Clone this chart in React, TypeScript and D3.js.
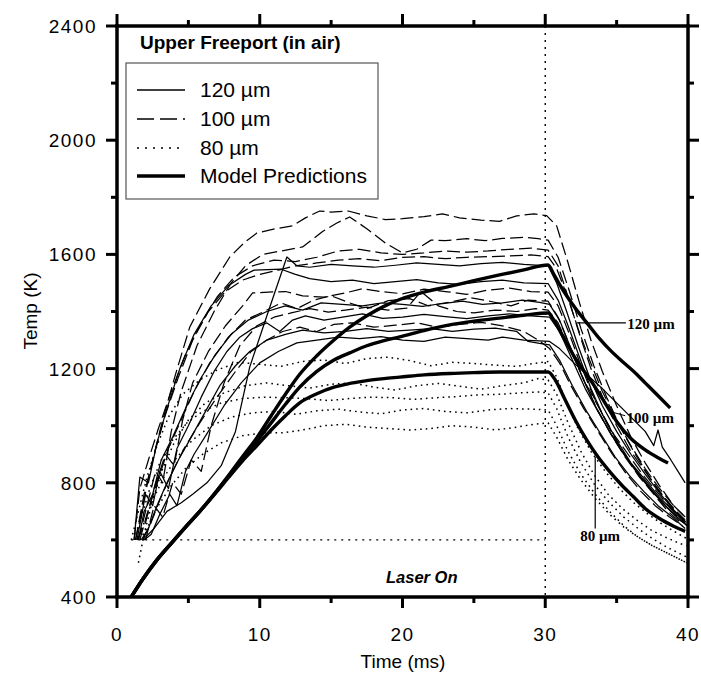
import React from "react";
import * as d3 from "d3";

type P = [number, number];

// ---------- axis ticks ----------
const xMajorTicks = [0, 10, 20, 30, 40];
const xMinorTicks = [5, 15, 25, 35];
const yMajorTicks = [400, 800, 1200, 1600, 2000, 2400];
const yMinorTicks = [600, 1000, 1400, 1800, 2200];

// ---------- legend ----------
const legendLabels = ["120 \u00b5m", "100 \u00b5m", "80 \u00b5m", "Model Predictions"];

// ---------- experimental data, 100 um (dashed) ----------
const d100a: P[] = [[1.3,600],[1.8,720],[2.4,860],[3.2,1020],[4.1,1180],[5.1,1346],[6.5,1480],[7.9,1591],[9.0,1645],[9.8,1675],[11.1,1690],[12.3,1700],[13.2,1728],[14.2,1752],[15.0,1748],[16.2,1752],[17.5,1735],[18.8,1722],[20.0,1725],[21.5,1732],[22.8,1742],[24.0,1728],[25.5,1720],[26.8,1716],[28.0,1735],[29.2,1742],[30.1,1736],[30.8,1700],[31.6,1570],[32.4,1430],[33.2,1300],[34.0,1190],[35.0,1070],[36.0,960],[37.0,870],[38.0,790],[39.0,720],[39.8,680]];
const d100b: P[] = [[1.5,600],[2.0,700],[2.7,840],[3.2,800],[3.8,980],[4.5,1120],[5.6,1280],[6.8,1400],[8.0,1500],[9.0,1560],[10.2,1600],[11.5,1612],[13.0,1626],[14.4,1680],[15.4,1710],[16.3,1731],[17.5,1690],[18.8,1640],[20.0,1605],[21.0,1618],[22.0,1650],[23.0,1648],[24.5,1655],[25.8,1648],[27.0,1656],[28.5,1660],[29.5,1655],[30.2,1650],[30.9,1590],[31.7,1470],[32.5,1340],[33.4,1210],[34.3,1100],[35.3,990],[36.3,900],[37.3,820],[38.3,750],[39.3,690],[39.9,660]];
const d100c: P[] = [[1.2,600],[1.6,780],[2.2,880],[2.9,990],[3.8,1120],[4.8,1250],[5.9,1360],[7.0,1450],[8.2,1520],[9.5,1560],[11.0,1580],[12.5,1575],[14.0,1590],[15.5,1612],[17.0,1618],[18.5,1605],[20.0,1600],[21.5,1605],[23.0,1612],[24.5,1608],[26.0,1612],[27.5,1618],[29.0,1622],[30.2,1615],[30.9,1560],[31.6,1450],[32.4,1320],[33.2,1200],[34.1,1090],[35.0,1000],[36.0,910],[37.0,840],[38.0,770],[39.0,710],[39.8,670]];
const d100d: P[] = [[1.4,600],[2.0,660],[2.6,780],[3.4,900],[4.0,860],[4.6,1020],[5.3,1150],[6.4,1260],[7.6,1350],[8.8,1420],[9.5,1465],[10.6,1468],[11.8,1470],[13.0,1455],[14.5,1450],[16.0,1465],[17.2,1480],[18.5,1470],[20.0,1462],[21.5,1478],[23.0,1470],[24.5,1460],[26.0,1475],[27.5,1482],[29.0,1470],[30.2,1468],[30.9,1420],[31.7,1320],[32.5,1210],[33.4,1100],[34.4,1000],[35.4,910],[36.4,840],[37.4,775],[38.4,720],[39.3,680],[39.9,650]];
const d100e: P[] = [[1.6,600],[2.1,690],[2.8,800],[3.6,920],[4.4,1010],[5.4,1120],[6.5,1220],[7.8,1310],[9.0,1370],[10.3,1400],[11.5,1430],[12.6,1410],[13.8,1440],[15.0,1455],[16.3,1430],[17.5,1410],[19.0,1438],[20.5,1445],[21.8,1420],[23.0,1430],[24.8,1448],[26.2,1435],[27.6,1420],[28.8,1440],[30.2,1436],[30.9,1380],[31.8,1270],[32.7,1160],[33.6,1060],[34.6,970],[35.6,890],[36.6,820],[37.6,760],[38.6,700],[39.5,660]];
const d100f: P[] = [[1.8,600],[2.3,650],[3.0,740],[3.8,830],[4.7,920],[5.8,1010],[7.0,1100],[8.3,1190],[9.4,1260],[10.5,1300],[11.6,1330],[12.8,1345],[14.0,1330],[15.2,1355],[16.5,1360],[18.0,1345],[19.5,1352],[21.0,1360],[22.5,1345],[24.0,1355],[25.5,1362],[27.0,1350],[28.5,1330],[29.5,1300],[30.3,1270],[31.0,1220],[31.8,1140],[32.7,1060],[33.7,980],[34.7,900],[35.7,830],[36.7,770],[37.7,720],[38.7,680],[39.6,650]];
const d100g: P[] = [[2.0,600],[2.6,720],[3.2,680],[3.9,800],[4.5,760],[5.2,880],[5.9,840],[6.6,1000],[7.5,1150],[8.6,1280],[9.8,1350],[11.0,1380],[12.2,1395],[13.5,1410],[14.8,1398],[16.0,1405],[17.5,1415],[19.0,1405],[20.3,1412],[21.3,1470],[22.5,1420],[23.8,1400],[25.0,1395],[26.5,1405],[28.0,1400],[29.3,1410],[30.2,1405],[30.9,1360],[31.8,1260],[32.8,1150],[33.8,1060],[34.8,970],[35.8,900],[36.8,830],[37.8,770],[38.8,710],[39.7,670]];
const d100h: P[] = [[1.3,600],[1.9,760],[2.6,900],[3.4,1040],[4.3,1170],[5.3,1300],[6.4,1400],[7.6,1470],[8.8,1510],[10.0,1530],[11.3,1545],[12.5,1560],[14.0,1570],[15.5,1580],[17.0,1585],[18.5,1578],[20.0,1590],[21.5,1592],[23.0,1585],[24.5,1590],[26.0,1592],[27.5,1595],[29.0,1598],[30.2,1592],[30.8,1550],[31.5,1460],[32.3,1340],[33.1,1230],[34.0,1120],[35.0,1020],[36.0,930],[37.0,850],[38.0,780],[39.0,720],[39.8,680]];

// ---------- experimental data, 120 um (solid) ----------
const s120a: P[] = [[1.2,600],[1.6,820],[2.2,800],[2.8,940],[3.5,1060],[4.4,1200],[5.4,1320],[6.6,1420],[7.8,1490],[9.0,1530],[9.6,1545],[11.5,1548],[12.5,1530],[13.5,1515],[15.0,1505],[16.5,1510],[18.0,1498],[19.5,1505],[21.0,1512],[22.5,1500],[24.0,1495],[25.5,1505],[27.0,1510],[28.5,1500],[30.2,1498],[30.9,1440],[31.6,1350],[32.4,1240],[33.2,1130],[34.1,1030],[35.0,950],[36.0,870],[37.0,810],[38.0,750],[39.0,700],[39.8,660]];
const s120b: P[] = [[1.5,600],[1.9,700],[2.5,760],[3.1,880],[3.9,960],[4.8,1060],[5.8,1160],[6.9,1250],[8.0,1320],[9.2,1370],[10.5,1400],[11.8,1420],[13.0,1405],[14.3,1430],[15.8,1425],[17.2,1420],[18.6,1430],[20.0,1425],[21.4,1418],[22.8,1428],[24.2,1436],[25.6,1425],[27.0,1430],[28.4,1440],[29.6,1432],[30.3,1425],[31.0,1370],[31.8,1270],[32.6,1170],[33.5,1070],[34.5,980],[35.5,900],[36.5,830],[37.5,770],[38.5,715],[39.4,670],[40.0,650]];
const s120c: P[] = [[1.4,600],[2.0,760],[2.5,720],[3.0,840],[3.6,780],[4.2,920],[5.0,1000],[5.9,1100],[6.8,1190],[7.7,1260],[8.6,1310],[9.5,1340],[10.5,1360],[11.4,1330],[12.3,1370],[13.2,1385],[14.5,1370],[15.8,1380],[17.2,1392],[18.6,1376],[20.0,1380],[21.5,1390],[23.0,1382],[24.5,1375],[26.0,1385],[27.5,1392],[29.0,1385],[30.3,1380],[31.0,1330],[31.9,1230],[32.8,1130],[33.8,1040],[34.8,955],[35.8,880],[36.8,815],[37.8,755],[38.8,700],[39.7,660]];
const s120d: P[] = [[1.7,600],[2.2,640],[2.8,720],[3.5,800],[4.3,880],[5.2,960],[6.2,1050],[7.2,1140],[8.3,1210],[9.3,1260],[10.5,1300],[11.8,1320],[13.0,1335],[14.5,1325],[16.0,1330],[17.5,1340],[19.0,1330],[20.5,1335],[22.0,1340],[23.5,1330],[25.0,1338],[26.5,1342],[28.0,1330],[28.8,1295],[29.6,1288],[30.3,1283],[31.0,1230],[31.9,1140],[32.9,1050],[33.9,970],[34.9,890],[35.9,825],[36.9,770],[37.9,720],[38.9,680],[39.8,640]];
const s120e: P[] = [[1.8,600],[2.6,640],[3.5,700],[4.5,730],[5.3,760],[6.3,800],[7.3,860],[8.3,980],[9.3,1206],[10.6,1400],[11.9,1591],[12.6,1560],[13.5,1555],[15.0,1565],[16.5,1560],[18.0,1555],[19.5,1562],[21.0,1570],[22.5,1565],[24.0,1560],[25.5,1568],[27.0,1572],[28.5,1565],[30.2,1560],[30.8,1500],[31.5,1400],[32.3,1280],[33.1,1170],[34.0,1070],[35.0,980],[36.0,900],[37.0,830],[38.0,765],[39.0,705],[39.8,665]];
const s120f: P[] = [[1.9,600],[2.4,620],[3.0,690],[3.7,760],[4.2,720],[4.8,840],[5.4,900],[6.4,980],[7.5,1070],[8.7,1150],[10.0,1220],[11.3,1260],[12.6,1290],[14.0,1300],[15.5,1310],[17.0,1305],[18.5,1312],[20.0,1300],[21.5,1295],[23.0,1310],[24.5,1305],[26.0,1300],[27.0,1310],[28.5,1300],[30.3,1295],[31.0,1270],[32.0,1220],[33.0,1175],[34.0,1130],[35.0,1080],[36.0,1030],[37.0,980],[37.6,930],[37.9,985],[38.2,925],[38.8,880],[39.3,840],[39.8,800]];

// ---------- experimental data, 80 um (dotted) ----------
const p80a: P[] = [[1.0,600],[1.5,700],[2.1,820],[2.8,930],[3.6,1030],[4.6,1110],[5.8,1160],[7.0,1195],[8.5,1222],[10.0,1215],[11.5,1208],[13.0,1225],[14.5,1230],[16.0,1218],[17.5,1235],[19.0,1240],[20.5,1228],[22.0,1210],[23.5,1222],[25.0,1218],[26.5,1212],[28.0,1208],[29.2,1218],[30.2,1225],[30.8,1170],[31.5,1080],[32.3,990],[33.2,910],[34.2,840],[35.2,780],[36.2,730],[37.2,690],[38.2,655],[39.2,625],[39.9,605]];
const p80b: P[] = [[1.5,520],[1.9,620],[2.5,740],[3.2,850],[4.0,940],[5.0,1020],[6.2,1080],[7.5,1115],[9.0,1140],[10.5,1150],[12.0,1140],[13.5,1132],[15.0,1145],[16.5,1150],[18.0,1135],[19.5,1125],[21.0,1140],[22.5,1148],[24.0,1138],[25.5,1128],[27.0,1140],[28.5,1150],[29.5,1165],[30.2,1160],[30.8,1110],[31.6,1010],[32.5,910],[33.4,830],[34.4,760],[35.4,710],[36.4,670],[37.4,635],[38.4,610],[39.3,590],[39.9,580]];
const p80c: P[] = [[1.2,600],[1.7,680],[2.3,780],[3.0,870],[3.9,950],[4.9,1010],[6.0,1050],[7.3,1080],[8.8,1095],[10.3,1100],[11.8,1098],[13.3,1095],[14.8,1088],[16.3,1095],[17.8,1100],[19.3,1098],[20.8,1092],[22.3,1098],[23.8,1102],[25.3,1108],[26.8,1110],[28.3,1115],[29.5,1118],[30.2,1115],[30.8,1060],[31.6,960],[32.5,870],[33.5,790],[34.5,730],[35.5,680],[36.5,640],[37.5,605],[38.5,575],[39.3,555],[39.9,540]];
const p80d: P[] = [[1.4,600],[1.9,660],[2.5,740],[3.3,820],[4.2,890],[5.3,950],[6.6,1000],[8.0,1030],[9.5,1045],[11.0,1050],[12.5,1040],[14.0,1052],[15.5,1058],[17.0,1048],[18.5,1042],[20.0,1055],[21.5,1060],[23.0,1050],[24.5,1045],[26.0,1055],[27.5,1060],[29.0,1058],[30.2,1055],[30.8,1000],[31.6,910],[32.5,830],[33.5,760],[34.5,700],[35.5,650],[36.5,610],[37.5,580],[38.5,555],[39.3,535],[39.9,520]];
const p80e: P[] = [[1.6,600],[2.2,650],[2.9,720],[3.8,790],[4.8,850],[6.0,900],[7.3,940],[8.8,965],[10.3,975],[11.6,975],[13.0,985],[14.5,1000],[16.0,1005],[17.5,995],[19.0,990],[20.5,985],[22.0,990],[23.5,1000],[25.0,995],[26.5,985],[28.0,995],[29.2,1005],[30.2,1010],[30.8,960],[31.6,880],[32.5,810],[33.5,745],[34.5,690],[35.5,645],[36.5,610],[37.5,580],[38.5,555],[39.3,535],[39.9,520]];

// ---------- model predictions (thick) ----------
const model120: P[] = [[1.0,400],[1.8,462],[2.8,530],[3.8,588],[4.8,645],[5.8,700],[6.8,760],[7.8,825],[8.8,892],[9.8,958],[10.8,1035],[11.8,1110],[12.8,1180],[14.0,1245],[15.2,1300],[16.3,1345],[17.5,1385],[18.7,1418],[19.8,1442],[21.5,1468],[23.3,1488],[25.0,1508],[26.8,1528],[28.5,1546],[30.2,1563],[30.6,1530],[31.0,1495],[31.5,1455],[32.2,1405],[33.0,1355],[33.8,1305],[34.6,1262],[35.4,1225],[36.2,1190],[37.0,1150],[37.8,1110],[38.75,1062]];
const model100: P[] = [[1.0,400],[1.8,462],[2.8,530],[3.8,588],[4.8,645],[5.8,700],[6.8,760],[7.8,823],[8.8,885],[9.8,945],[10.8,1010],[11.8,1075],[12.8,1135],[14.0,1190],[15.2,1230],[16.3,1255],[17.5,1280],[18.7,1298],[19.8,1311],[21.5,1333],[23.3,1353],[25.0,1366],[26.8,1377],[28.5,1387],[30.2,1395],[30.6,1370],[31.0,1335],[31.5,1290],[32.0,1245],[32.6,1200],[33.3,1150],[34.0,1095],[35.0,1015],[36.0,955],[37.0,915],[38.0,885],[38.6,869]];
const model80: P[] = [[1.0,400],[1.8,462],[2.8,530],[3.8,588],[4.8,645],[5.8,700],[6.8,758],[7.8,818],[8.8,877],[9.8,930],[10.8,985],[11.8,1035],[12.8,1080],[14.0,1112],[15.2,1135],[16.3,1148],[17.5,1158],[18.7,1165],[19.8,1170],[21.5,1178],[23.3,1183],[25.0,1186],[26.8,1188],[28.5,1188],[30.2,1188],[30.7,1160],[31.4,1090],[32.1,1020],[32.9,950],[33.7,890],[34.5,840],[35.3,795],[36.2,750],[37.0,710],[38.0,675],[39.0,648],[39.8,630]];

const dashedTraces = [d100a, d100b, d100c, d100d, d100e, d100f, d100g, d100h];
const solidTraces = [s120a, s120b, s120c, s120d, s120e, s120f];
const dottedTraces = [p80a, p80b, p80c, p80d, p80e];
const modelCurves = [model120, model100, model80];

// reference lines / annotations (data units)
const laserFloorT = 600;
const laserStart = 1.0;
const laserEnd = 30;

const W = 701;
const H = 675;

export default function App() {
  const x = d3.scaleLinear().domain([0, 40]).range([117, 688]);
  const y = d3.scaleLinear().domain([400, 2400]).range([597, 26]);
  const line = d3.line<P>().x((d) => x(d[0])).y((d) => y(d[1]));
  const smooth = d3.line<P>().x((d) => x(d[0])).y((d) => y(d[1])).curve(d3.curveMonotoneX);

  const font = "'Liberation Sans', Arial, Helvetica, sans-serif";
  const serif = "'Liberation Serif', 'Times New Roman', serif";
  const left = x(0), right = x(40), top = y(2400), bottom = y(400);
  const dashStyle = "13,5";
  const dotStyle = "1.6,4";

  return (
    <svg width={W} height={H} style={{ position: "absolute", left: 0, top: 0, background: "#fff" }}>
      <rect x={0} y={0} width={W} height={H} fill="#fff" />
      {/* reference dotted lines */}
      <line x1={x(laserStart)} x2={x(laserEnd)} y1={y(laserFloorT)} y2={y(laserFloorT)} stroke="#000" strokeWidth={1.4} strokeDasharray="2,5" />
      <line x1={x(laserEnd)} x2={x(laserEnd)} y1={top} y2={bottom} stroke="#000" strokeWidth={1.4} strokeDasharray="2,5" />

      {/* data */}
      <g fill="none" stroke="#000" strokeLinejoin="round">
        {dottedTraces.map((d, i) => (
          <path key={"p" + i} d={line(d) || ""} strokeWidth={1.5} strokeDasharray={dotStyle} />
        ))}
        {dashedTraces.map((d, i) => (
          <path key={"d" + i} d={line(d) || ""} strokeWidth={1.25} strokeDasharray={dashStyle} />
        ))}
        {solidTraces.map((d, i) => (
          <path key={"s" + i} d={line(d) || ""} strokeWidth={1.25} />
        ))}
        {modelCurves.map((d, i) => (
          <path key={"m" + i} d={smooth(d) || ""} strokeWidth={3.4} />
        ))}
      </g>

      {/* annotations */}
      <line x1={x(32.2)} x2={x(35.65)} y1={y(1360)} y2={y(1360)} stroke="#000" strokeWidth={1.2} />
      <text x={x(35.75)} y={y(1338)} fontFamily={serif} fontWeight="bold" fontSize={15}>120 µm</text>
      <line x1={x(34.5)} x2={x(35.6)} y1={y(1050)} y2={y(1035)} stroke="#000" strokeWidth={1} />
      <text x={x(35.7)} y={y(1010)} fontFamily={serif} fontWeight="bold" fontSize={15}>100 µm</text>
      <line x1={x(33.5)} x2={x(33.5)} y1={y(890)} y2={y(640)} stroke="#000" strokeWidth={1.2} />
      <text x={x(32.45)} y={y(596)} fontFamily={serif} fontWeight="bold" fontSize={15}>80 µm</text>
      <text x={x(21.35)} y={y(450)} fontFamily={font} fontWeight="bold" fontStyle="italic" fontSize={16.5} textAnchor="middle">Laser On</text>

      {/* frame */}
      <g stroke="#000" strokeWidth={3.5} strokeLinecap="square">
        <line x1={left} x2={right} y1={bottom} y2={bottom} />
        <line x1={left} x2={right} y1={top} y2={top} />
        <line x1={left} x2={left} y1={top} y2={bottom} />
        <line x1={right} x2={right} y1={top} y2={bottom} />
      </g>
      <g stroke="#000" strokeWidth={3}>
        {xMajorTicks.map((t) => (
          <g key={"xm" + t}>
            <line x1={x(t)} x2={x(t)} y1={bottom} y2={bottom + 11} />
            <line x1={x(t)} x2={x(t)} y1={top} y2={top - 12} />
          </g>
        ))}
        {xMinorTicks.map((t) => (
          <g key={"xn" + t}>
            <line x1={x(t)} x2={x(t)} y1={bottom} y2={bottom + 6} />
            <line x1={x(t)} x2={x(t)} y1={top} y2={top - 6} />
          </g>
        ))}
        {yMajorTicks.map((t) => (
          <g key={"ym" + t}>
            <line x1={left} x2={left - 11} y1={y(t)} y2={y(t)} />
            <line x1={right} x2={right + 11} y1={y(t)} y2={y(t)} />
          </g>
        ))}
        {yMinorTicks.map((t) => (
          <g key={"yn" + t}>
            <line x1={left} x2={left - 6} y1={y(t)} y2={y(t)} />
            <line x1={right} x2={right + 6} y1={y(t)} y2={y(t)} />
          </g>
        ))}
      </g>
      <g fontFamily={font} fontSize={19} fill="#000">
        {xMajorTicks.map((t) => (
          <text key={"xl" + t} x={x(t)} y={641} textAnchor="middle" letterSpacing={1.5}>{t}</text>
        ))}
        {yMajorTicks.map((t) => (
          <text key={"yl" + t} x={97} y={y(t) + 7} textAnchor="end" letterSpacing={1.5}>{t}</text>
        ))}
        <text x={403} y={668} textAnchor="middle">Time (ms)</text>
        <text transform="translate(37,311) rotate(-90)" textAnchor="middle">Temp (K)</text>
      </g>

      {/* title and legend */}
      <text x={140} y={49} fontFamily={font} fontSize={19} fontWeight="bold">Upper Freeport (in air)</text>
      <rect x={126} y={63} width={252} height={136} fill="#fff" stroke="#555" strokeWidth={1.2} />
      <g stroke="#000" fill="none">
        <line x1={137} x2={185} y1={90} y2={90} strokeWidth={1.3} />
        <line x1={137} x2={185} y1={119} y2={119} strokeWidth={1.3} strokeDasharray="17,6" />
        <line x1={137} x2={185} y1={148} y2={148} strokeWidth={1.5} strokeDasharray="2,6" />
        <line x1={137} x2={185} y1={176} y2={176} strokeWidth={3.4} />
      </g>
      <g fontFamily={font} fontSize={21} fill="#000">
        {legendLabels.map((l, i) => (
          <text key={l} x={200} y={[97, 126, 155, 183][i]}>{l}</text>
        ))}
      </g>
    </svg>
  );
}
